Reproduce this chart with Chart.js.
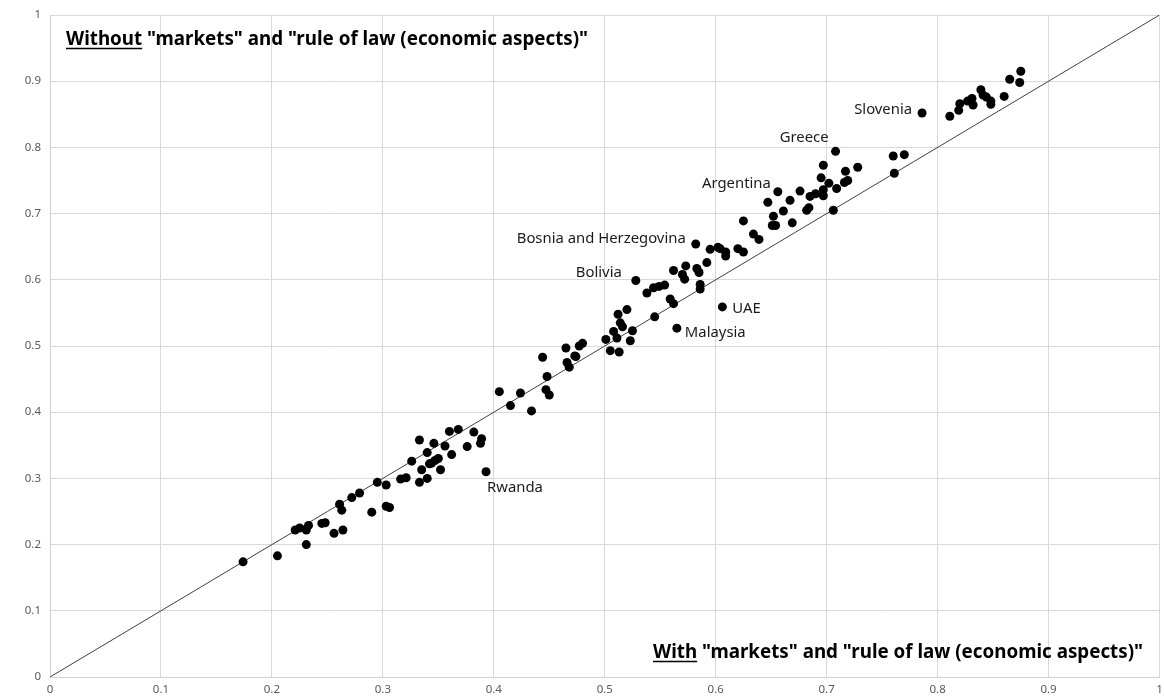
<!DOCTYPE html>
<html lang="en">
<head>
    <meta charset="UTF-8">
    <title>With vs without markets and rule of law</title>
    <script src="https://cdn.jsdelivr.net/npm/chart.js"></script>
    <style>
        html, body { margin: 0; padding: 0; background: #fff; }
        #wrap { width: 1164px; height: 700px; }
    </style>
</head>
<body>
    <div id="wrap"><canvas id="scatter" width="1164" height="700"></canvas></div>

    <script>
        // index values with "markets" and "rule of law (economic aspects)" (x)
        const withVals = [
            0.174, 0.205, 0.221, 0.225, 0.231, 0.233, 0.231, 0.245, 0.248, 0.256,
            0.264, 0.261, 0.263, 0.272, 0.279, 0.290, 0.295, 0.303, 0.303, 0.306,
            0.316, 0.321, 0.326, 0.333, 0.335, 0.333, 0.340, 0.340, 0.342, 0.344,
            0.347, 0.350, 0.346, 0.352, 0.356, 0.360, 0.362, 0.368, 0.376, 0.382,
            0.389, 0.388, 0.393, 0.405, 0.415, 0.424, 0.434, 0.444, 0.448, 0.447,
            0.450, 0.465, 0.466, 0.468, 0.473, 0.474, 0.477, 0.480, 0.501, 0.505,
            0.508, 0.511, 0.513, 0.512, 0.514, 0.516, 0.520, 0.525, 0.523, 0.528,
            0.538, 0.544, 0.549, 0.554, 0.562, 0.559, 0.562, 0.545, 0.565, 0.606,
            0.570, 0.573, 0.572, 0.583, 0.585, 0.586, 0.586, 0.582, 0.592, 0.595,
            0.602, 0.604, 0.609, 0.609, 0.620, 0.625, 0.625, 0.634, 0.639, 0.647,
            0.652, 0.651, 0.654, 0.656, 0.661, 0.667, 0.669, 0.676, 0.682, 0.684,
            0.685, 0.690, 0.697, 0.697, 0.695, 0.697, 0.702, 0.708, 0.706, 0.709,
            0.717, 0.716, 0.719, 0.728, 0.760, 0.761, 0.770, 0.786, 0.811, 0.819,
            0.820, 0.827, 0.831, 0.832, 0.839, 0.841, 0.844, 0.848, 0.848, 0.860,
            0.865, 0.874, 0.875
        ];
        // index values without them (y)
        const withoutVals = [
            0.174, 0.183, 0.222, 0.225, 0.222, 0.229, 0.200, 0.232, 0.233, 0.217,
            0.222, 0.261, 0.252, 0.271, 0.278, 0.249, 0.294, 0.290, 0.258, 0.256,
            0.299, 0.301, 0.326, 0.358, 0.313, 0.294, 0.339, 0.300, 0.322, 0.323,
            0.327, 0.330, 0.353, 0.313, 0.349, 0.371, 0.336, 0.374, 0.348, 0.370,
            0.360, 0.353, 0.310, 0.431, 0.410, 0.429, 0.402, 0.483, 0.454, 0.434,
            0.426, 0.497, 0.475, 0.468, 0.485, 0.484, 0.500, 0.504, 0.510, 0.493,
            0.522, 0.512, 0.491, 0.548, 0.535, 0.529, 0.555, 0.523, 0.508, 0.599,
            0.580, 0.588, 0.590, 0.592, 0.614, 0.571, 0.564, 0.544, 0.527, 0.559,
            0.608, 0.621, 0.601, 0.617, 0.611, 0.593, 0.586, 0.654, 0.626, 0.646,
            0.649, 0.647, 0.642, 0.636, 0.647, 0.642, 0.689, 0.669, 0.661, 0.717,
            0.696, 0.682, 0.682, 0.733, 0.704, 0.720, 0.686, 0.734, 0.705, 0.709,
            0.726, 0.730, 0.736, 0.727, 0.754, 0.773, 0.746, 0.794, 0.705, 0.738,
            0.764, 0.747, 0.750, 0.770, 0.787, 0.761, 0.789, 0.852, 0.847, 0.856,
            0.866, 0.870, 0.874, 0.864, 0.887, 0.879, 0.876, 0.870, 0.865, 0.877,
            0.903, 0.898, 0.915
        ];

        // named countries and their point values
        const countryNames = ['Rwanda', 'Bolivia', 'Malaysia', 'UAE', 'Bosnia and Herzegovina', 'Argentina', 'Greece', 'Slovenia'];
        const countryWith = [0.393, 0.528, 0.565, 0.606, 0.582, 0.656, 0.708, 0.786];
        const countryWithout = [0.310, 0.599, 0.527, 0.559, 0.654, 0.733, 0.794, 0.852];

        const tickValues = [0, 0.1, 0.2, 0.3, 0.4, 0.5, 0.6, 0.7, 0.8, 0.9, 1];
        const diagonal = [0, 1];

        const topTitle = ['Without', ' "markets" and "rule of law (economic aspects)"'];
        const bottomTitle = ['With', ' "markets" and "rule of law (economic aspects)"'];

        // label placement relative to the point: dx, dy, align
        const labelPlace = {
            'Rwanda': [1, 16, 'left'],
            'Bolivia': [-14, -7, 'right'],
            'Malaysia': [8, 5, 'left'],
            'UAE': [10, 2, 'left'],
            'Bosnia and Herzegovina': [-10, -5, 'right'],
            'Argentina': [-7, -8, 'right'],
            'Greece': [-7, -13, 'right'],
            'Slovenia': [-10, -3, 'right']
        };

        function drawSquashed(ctx, text, x, y, sx, align) {
            const w = ctx.measureText(text).width * sx;
            const left = align === 'right' ? x - w : x;
            ctx.save();
            ctx.translate(left, y);
            ctx.scale(sx, 1);
            ctx.textAlign = 'left';
            ctx.fillText(text, 0, 0);
            ctx.restore();
            return w;
        }

        const textPlugin = {
            id: 'textPlugin',
            afterDatasetsDraw(chart) {
                const ctx = chart.ctx;
                const xs = chart.scales.x, ys = chart.scales.y;
                ctx.save();
                ctx.fillStyle = '#000';
                ctx.textBaseline = 'alphabetic';

                // titles
                ctx.font = 'bold 19.5px "Noto Sans"';
                const sx = 490 / ctx.measureText(bottomTitle.join('')).width;
                ctx.strokeStyle = '#000';
                ctx.lineWidth = 1.6;

                let w1 = drawSquashed(ctx, topTitle[0], 66, 45, sx, 'left');
                drawSquashed(ctx, topTitle[1], 66 + w1, 45, sx, 'left');
                ctx.beginPath();
                ctx.moveTo(66, 48.5);
                ctx.lineTo(66 + w1, 48.5);
                ctx.stroke();

                const restW = ctx.measureText(bottomTitle[1]).width * sx;
                const boldW = ctx.measureText(bottomTitle[0]).width * sx;
                const startX = 1143 - restW - boldW;
                drawSquashed(ctx, bottomTitle[0], startX, 658, sx, 'left');
                drawSquashed(ctx, bottomTitle[1], startX + boldW, 658, sx, 'left');
                ctx.beginPath();
                ctx.moveTo(startX, 661.5);
                ctx.lineTo(startX + boldW, 661.5);
                ctx.stroke();

                // country labels
                ctx.font = '14px "Noto Sans"';
                ctx.fillStyle = '#1a1a1a';
                const lx = 169 / ctx.measureText('Bosnia and Herzegovina').width;
                ctx.textBaseline = 'middle';
                countryNames.forEach((name, i) => {
                    const p = labelPlace[name];
                    const px = xs.getPixelForValue(countryWith[i]) + p[0];
                    const py = ys.getPixelForValue(countryWithout[i]) + p[1];
                    drawSquashed(ctx, name, px, py, lx, p[2]);
                });
                ctx.restore();
            }
        };

        const axisCommon = {
            type: 'linear',
            min: 0,
            max: 1,
            afterBuildTicks: (scale) => {
                scale.ticks = tickValues.map(v => ({ value: v }));
            },
            grid: { color: '#d9d9d9', lineWidth: 1, drawTicks: false },
            border: { color: '#d0d0d0', width: 1 },
            ticks: {
                color: '#595959',
                font: { family: '"Noto Sans"', size: 11.5 },
                callback: (v) => String(Math.round(v * 10) / 10)
            }
        };

        const ctx = document.getElementById('scatter').getContext('2d');
        new Chart(ctx, {
            type: 'scatter',
            data: {
                datasets: [
                    {
                        label: 'countries',
                        data: withVals.map((x, i) => ({ x: x, y: withoutVals[i] })),
                        backgroundColor: '#000',
                        borderWidth: 0,
                        pointRadius: 4.5,
                        order: 1
                    },
                    {
                        label: 'diagonal',
                        type: 'line',
                        data: diagonal.map(v => ({ x: v, y: v })),
                        borderColor: '#404040',
                        borderWidth: 1,
                        pointRadius: 0,
                        fill: false,
                        order: 2
                    }
                ]
            },
            options: {
                responsive: false,
                animation: false,
                layout: { padding: { top: 15, right: 4, left: 0, bottom: 0 } },
                plugins: {
                    legend: { display: false },
                    tooltip: { enabled: false }
                },
                scales: {
                    x: Object.assign({}, axisCommon, {
                        ticks: Object.assign({}, axisCommon.ticks, { padding: 6, maxRotation: 0 }),
                        afterFit: (scale) => {
                            scale.height = 23;
                            scale.paddingRight = 0;
                            scale.paddingLeft = 0;
                        }
                    }),
                    y: Object.assign({}, axisCommon, {
                        ticks: Object.assign({}, axisCommon.ticks, { padding: 9 }),
                        afterFit: (scale) => {
                            scale.width = 50;
                            scale.paddingTop = 0;
                            scale.paddingBottom = 0;
                        }
                    })
                }
            },
            plugins: [textPlugin]
        });
    </script>
</body>
</html>
